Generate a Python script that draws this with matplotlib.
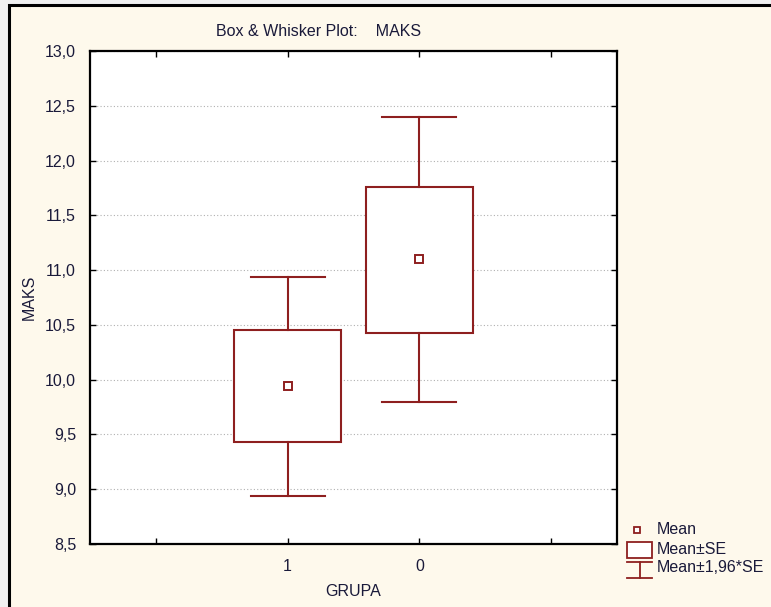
import matplotlib
matplotlib.use("Agg")
import matplotlib.pyplot as plt
from matplotlib.patches import Rectangle
from matplotlib.lines import Line2D

plt.rcParams['font.family'] = ['Liberation Sans', 'DejaVu Sans']

# ---- data ----
groups = ['1', '0']
positions = [1, 2]
means = [9.946, 11.10]
se_low = [9.433, 10.43]
se_high = [10.45, 11.76]
ci_low = [8.94, 9.80]
ci_high = [10.94, 12.40]
yticks = [8.5, 9.0, 9.5, 10.0, 10.5, 11.0, 11.5, 12.0, 12.5, 13.0]
ytick_labels = ['8,5', '9,0', '9,5', '10,0', '10,5', '11,0', '11,5', '12,0', '12,5', '13,0']

RED = '#8E1F1F'
BG = '#FEF9EC'
TXT = '#1a1a3a'
W, H = 771, 607

fig = plt.figure(figsize=(W / 100, H / 100), dpi=100)
fig.patch.set_facecolor('#F0F0F0')
# cream panel with black border
fig.add_artist(Rectangle((9 / W, -0.05), 1.1, 1.05 - 5 / H, transform=fig.transFigure,
                         facecolor=BG, edgecolor='black', linewidth=2.2, zorder=0))

ax = fig.add_axes([90 / W, (H - 544) / H, (617 - 90) / W, (544 - 51) / H])
ax.set_facecolor('white')
ax.set_xlim(-0.5, 3.5)
ax.set_ylim(8.5, 13.0)

box_w = 0.81
cap_w = 0.56
for x, m, sl, sh, cl, ch in zip(positions, means, se_low, se_high, ci_low, ci_high):
    ax.add_patch(Rectangle((x - box_w / 2, sl), box_w, sh - sl, facecolor='white',
                           edgecolor=RED, linewidth=1.5, zorder=3))
    ax.plot([x, x], [sh, ch], color=RED, lw=1.5, zorder=3)
    ax.plot([x, x], [cl, sl], color=RED, lw=1.5, zorder=3)
    ax.plot([x - cap_w / 2, x + cap_w / 2], [ch, ch], color=RED, lw=1.5, zorder=3)
    ax.plot([x - cap_w / 2, x + cap_w / 2], [cl, cl], color=RED, lw=1.5, zorder=3)
    ax.plot([x], [m], marker='s', ms=6, mfc='white', mec=RED, mew=1.4, zorder=4)

ax.set_yticks(yticks)
ax.set_yticklabels(ytick_labels, fontsize=11.5, color=TXT)
ax.set_xticks([0, 1, 2, 3])
ax.set_xticklabels(['', groups[0], groups[1], ''], fontsize=11.5, color=TXT)
ax.tick_params(direction='in', length=4, width=1, top=True, right=True, pad=10)
ax.tick_params(axis='x', pad=11)
ax.yaxis.grid(True, linestyle=(0, (1, 2)), color='#B0B0B0', linewidth=0.8)
ax.set_axisbelow(True)
for s in ax.spines.values():
    s.set_linewidth(1.6)
    s.set_color('black')

ax.set_ylabel('MAKS', fontsize=11.5, color=TXT, labelpad=6)
ax.set_xlabel('GRUPA', fontsize=11.5, color=TXT, labelpad=7)
fig.text(319 / W, 1 - 31 / H, 'Box & Whisker Plot:    MAKS', fontsize=11.5,
         ha='center', va='center', color=TXT)

# legend drawn in figure pixel coordinates
def fx(px):
    return px / W

def fy(py):
    return 1 - py / H

fs_leg = 11.5
# Mean marker
fig.add_artist(Line2D([fx(637)], [fy(530)], marker='s', ms=5, mfc='white', mec=RED, mew=1.3,
                      transform=fig.transFigure))
fig.text(fx(657), fy(530), 'Mean', fontsize=fs_leg, va='center', ha='left', color=TXT)
# Mean±SE box icon
fig.add_artist(Rectangle((fx(627), fy(558)), (652 - 627) / W, (558 - 542) / H,
                         transform=fig.transFigure, facecolor='white', edgecolor=RED, lw=1.3))
fig.text(fx(657), fy(549), 'Mean±SE', fontsize=fs_leg, va='center', ha='left', color=TXT)
# Mean±1,96*SE whisker icon
fig.add_artist(Line2D([fx(627), fx(652)], [fy(562), fy(562)], color=RED, lw=1.3,
                      transform=fig.transFigure))
fig.add_artist(Line2D([fx(627), fx(652)], [fy(578), fy(578)], color=RED, lw=1.3,
                      transform=fig.transFigure))
fig.add_artist(Line2D([fx(639.5), fx(639.5)], [fy(562), fy(578)], color=RED, lw=1.3,
                      transform=fig.transFigure))
fig.text(fx(657), fy(568), 'Mean±1,96*SE', fontsize=fs_leg, va='center', ha='left', color=TXT)

fig.savefig('out.png', dpi=100, facecolor=fig.get_facecolor())
